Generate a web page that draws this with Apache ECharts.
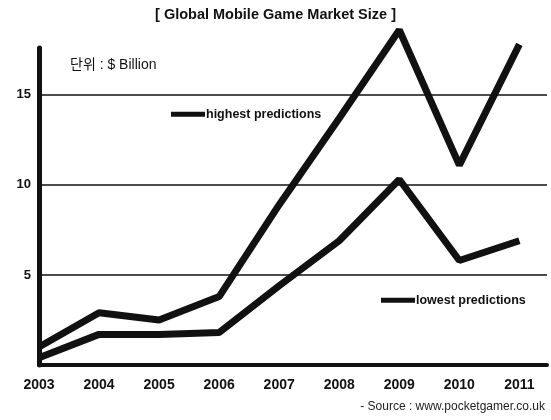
<!DOCTYPE html>
<html><head><meta charset="utf-8">
<script src="https://cdn.jsdelivr.net/npm/echarts@6/dist/echarts.min.js"></script>
<style>html,body{margin:0;padding:0;background:#fff}#c{width:551px;height:420px}</style>
</head><body><div id="c"></div>
<script>
var years = [2003, 2004, 2005, 2006, 2007, 2008, 2009, 2010, 2011];
var highest = [1.0, 2.9, 2.5, 3.8, 8.9, 13.7, 18.6, 11.1, 17.8];
var lowest = [0.4, 1.7, 1.7, 1.8, 4.4, 6.9, 10.3, 5.8, 6.9];
var yTicks = [5, 10, 15];
var title = '[ Global Mobile Game Market Size ]';
var unitText = '단위 : $ Billion';
var sourceText = '- Source : www.pocketgamer.co.uk';

function pairs(v){ return years.map(function(y,i){ return [y, v[i]]; }); }
var chart = echarts.init(document.getElementById('c'));
var fontF = 'Arial, "Liberation Sans", "Noto Sans CJK KR", sans-serif';
chart.setOption({
  animation: false,
  backgroundColor: '#fff',
  title: { text: title, left: 'center', top: 3,
    textStyle: { fontFamily: fontF, fontSize: 14.5, fontWeight: 'bold', color: '#111' } },
  grid: { left: 39, right: 4, top: 48, bottom: 55 },
  legend: [
    { data: ['highest predictions'], left: 166, top: 103, icon: 'rect', itemWidth: 34, itemHeight: 5, itemGap: 0,
      textStyle: { fontFamily: fontF, fontSize: 12.5, fontWeight: 'bold', color: '#111', padding: [0,0,0,-4] } },
    { data: ['lowest predictions'], left: 376, top: 289, icon: 'rect', itemWidth: 34, itemHeight: 5, itemGap: 0,
      textStyle: { fontFamily: fontF, fontSize: 12.5, fontWeight: 'bold', color: '#111', padding: [0,0,0,-4] } }
  ],
  xAxis: {
    type: 'value', min: 2003, max: 2011.46, interval: 1,
    axisLine: { show: true, onZero: false, lineStyle: { color: '#111', width: 4 } },
    axisTick: { show: false },
    splitLine: { show: false },
    axisLabel: { margin: 13, fontFamily: fontF, fontSize: 14, fontWeight: 'bold', color: '#111',
      formatter: function(v){ return Math.abs(v - Math.round(v)) < 1e-6 ? String(Math.round(v)) : ''; } }
  },
  yAxis: {
    type: 'value', min: 0, max: 17.6, interval: 5,
    axisLine: { show: true, lineStyle: { color: '#111', width: 5 } },
    axisTick: { show: false },
    splitLine: { show: false },
    axisLabel: { margin: 8, fontFamily: fontF, fontSize: 13, fontWeight: 'bold', color: '#111',
      formatter: function(v){ return yTicks.indexOf(v) >= 0 ? String(v) : ''; } }
  },
  graphic: [
    { type: 'text', left: 70, top: 58, style: { text: unitText, font: '14px ' + fontF, fill: '#111' } },
    { type: 'text', right: 6, top: 401, style: { text: sourceText, font: '12px ' + fontF, fill: '#222' } }
  ],
  series: [
    { name: 'grid', type: 'line', data: [], silent: true,
      markLine: { silent: true, symbol: 'none', label: { show: false },
        lineStyle: { color: '#111', width: 1.5, type: 'solid' },
        data: yTicks.map(function(t){ return { yAxis: t }; }) } },
    { name: 'highest predictions', type: 'line', data: pairs(highest), clip: false, symbol: 'none',
      lineStyle: { color: '#111', width: 7 }, itemStyle: { color: '#111' }, z: 5 },
    { name: 'lowest predictions', type: 'line', data: pairs(lowest), clip: false, symbol: 'none',
      lineStyle: { color: '#111', width: 7 }, itemStyle: { color: '#111' }, z: 5 }
  ]
});
</script></body></html>
